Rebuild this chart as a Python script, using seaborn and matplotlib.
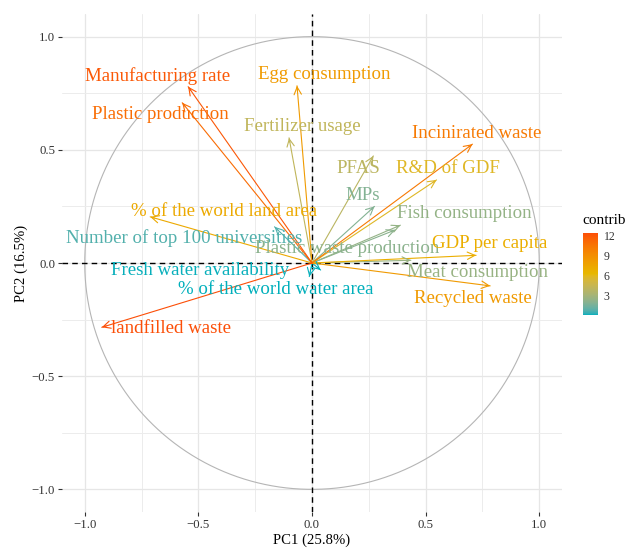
import numpy as np
import pandas as pd
import matplotlib
matplotlib.use("Agg")
import matplotlib.pyplot as plt
from matplotlib.colors import ListedColormap, Normalize
import seaborn as sns

# PCA variable coordinates (correlations with PC1 / PC2)
variables = [
    "Manufacturing rate", "Plastic production", "Egg consumption", "Fertilizer usage",
    "% of the world land area", "Number of top 100 universities", "Incinirated waste",
    "R&D of GDF", "PFAS", "MPs", "Fish consumption", "Plastic waste production",
    "GDP per capita", "Meat consumption", "Recycled waste", "landfilled waste",
    "Fresh water availability", "% of the world water area",
]
pc1 = [-0.545, -0.571, -0.066, -0.101, -0.712, -0.165, 0.706, 0.548, 0.270, 0.275,
       0.389, 0.366, 0.722, 0.435, 0.784, -0.925, -0.012, 0.038]
pc2 = [0.779, 0.708, 0.783, 0.553, 0.204, 0.160, 0.525, 0.367, 0.473, 0.250,
       0.167, 0.146, 0.034, 0.012, -0.101, -0.284, -0.060, -0.031]
pc1_pct, pc2_pct = 25.8, 16.5

# label anchors (repelled text positions)
label_xy = {
    "Manufacturing rate": (-0.680, 0.827),
    "Egg consumption": (0.055, 0.832),
    "Plastic production": (-0.666, 0.655),
    "Fertilizer usage": (-0.044, 0.602),
    "Incinirated waste": (0.725, 0.571),
    "PFAS": (0.202, 0.416),
    "R&D of GDF": (0.598, 0.416),
    "MPs": (0.224, 0.296),
    "% of the world land area": (-0.387, 0.226),
    "Fish consumption": (0.668, 0.217),
    "Number of top 100 universities": (-0.563, 0.111),
    "Plastic waste production": (0.154, 0.066),
    "GDP per capita": (0.782, 0.088),
    "Fresh water availability": (-0.491, -0.031),
    "Meat consumption": (0.730, -0.044),
    "% of the world water area": (-0.158, -0.119),
    "Recycled waste": (0.707, -0.155),
    "landfilled waste": (-0.622, -0.288),
}

df = pd.DataFrame({"variable": variables, "PC1": pc1, "PC2": pc2})
sq = df["PC1"] ** 2 + df["PC2"] ** 2
df["contrib"] = 100 * sq / sq.sum()

# ---- three-colour gradient interpolated in CIELAB across the data range ----
def _srgb_to_lab(rgb):
    rgb = np.asarray(rgb, float)
    lin = np.where(rgb <= 0.04045, rgb / 12.92, ((rgb + 0.055) / 1.055) ** 2.4)
    M = np.array([[0.4124564, 0.3575761, 0.1804375],
                  [0.2126729, 0.7151522, 0.0721750],
                  [0.0193339, 0.1191920, 0.9503041]])
    xyz = lin @ M.T / np.array([0.95047, 1.0, 1.08883])
    f = np.where(xyz > (6 / 29) ** 3, np.cbrt(xyz), xyz / (3 * (6 / 29) ** 2) + 4 / 29)
    return np.stack([116 * f[..., 1] - 16, 500 * (f[..., 0] - f[..., 1]),
                     200 * (f[..., 1] - f[..., 2])], -1)

def _lab_to_srgb(lab):
    lab = np.asarray(lab, float)
    fy = (lab[..., 0] + 16) / 116
    fx = fy + lab[..., 1] / 500
    fz = fy - lab[..., 2] / 200
    f = np.stack([fx, fy, fz], -1)
    xyz = np.where(f > 6 / 29, f ** 3, 3 * (6 / 29) ** 2 * (f - 4 / 29))
    xyz = xyz * np.array([0.95047, 1.0, 1.08883])
    Minv = np.array([[3.2404542, -1.5371385, -0.4985314],
                     [-0.9692660, 1.8760108, 0.0415560],
                     [0.0556434, -0.2040259, 1.0572252]])
    lin = np.clip(xyz @ Minv.T, 0, 1)
    return np.where(lin <= 0.0031308, 12.92 * lin, 1.055 * lin ** (1 / 2.4) - 0.055)

grad_cols = ["#00AFBB", "#E7B800", "#FC4E07"]
grad_lab = _srgb_to_lab(np.array([matplotlib.colors.to_rgb(c) for c in grad_cols]))
c_min, c_max = df["contrib"].min(), df["contrib"].max()

def contrib_color(v):
    p = np.clip((np.asarray(v, float) - c_min) / (c_max - c_min), 0, 1)
    low = p < 0.5
    t = np.where(low, p / 0.5, (p - 0.5) / 0.5)[..., None]
    lo = np.where(low[..., None], grad_lab[0], grad_lab[1])
    hi = np.where(low[..., None], grad_lab[1], grad_lab[2])
    return _lab_to_srgb(lo + (hi - lo) * t)

cmap = ListedColormap(contrib_color(np.linspace(c_min, c_max, 256)))
norm = Normalize(c_min, c_max)

# ---- figure ----
sns.set_theme(style="whitegrid")
plt.rcParams["font.family"] = ["Liberation Serif", "DejaVu Serif"]

fig = plt.figure(figsize=(6.27, 5.48), dpi=100)
ax = fig.add_axes([62 / 627, 36 / 548, 500 / 627, 498 / 548])
ax.set_facecolor("white")

ax.set_xlim(-1.1, 1.1)
ax.set_ylim(-1.1, 1.1)
ax.set_xticks([-1.0, -0.5, 0.0, 0.5, 1.0])
ax.set_yticks([-1.0, -0.5, 0.0, 0.5, 1.0])
ax.set_xticks([-0.75, -0.25, 0.25, 0.75], minor=True)
ax.set_yticks([-0.75, -0.25, 0.25, 0.75], minor=True)
ax.grid(True, which="major", color="#e6e6e6", lw=0.9)
ax.grid(True, which="minor", color="#ececec", lw=0.7)
for s in ax.spines.values():
    s.set_visible(False)
ax.tick_params(which="major", length=3, width=0.8, color="#333333",
               labelsize=9.2, labelcolor="#333333", pad=2, bottom=True, left=True)
ax.tick_params(which="minor", length=0)

# correlation circle
theta = np.linspace(0, 2 * np.pi, 400)
ax.plot(np.cos(theta), np.sin(theta), color="#b5b5b5", lw=0.8, zorder=2)

# reference axes
ax.axhline(0, color="black", lw=1.0, ls=(0, (4, 3)), zorder=2)
ax.axvline(0, color="black", lw=1.0, ls=(0, (4, 3)), zorder=2)

# arrow shafts
seg = pd.concat([
    df.assign(x=0.0, y=0.0, order=0),
    df.assign(x=df["PC1"], y=df["PC2"], order=1),
]).sort_values(["variable", "order"])
sns.lineplot(data=seg, x="x", y="y", units="variable", estimator=None, sort=False,
             hue="contrib", palette=cmap, hue_norm=norm, lw=0.8, legend=False,
             ax=ax, zorder=3)

# arrow heads and labels
for _, r in df.iterrows():
    col = contrib_color(r["contrib"])
    d = np.array([r["PC1"], r["PC2"]])
    n = np.linalg.norm(d)
    start = d - d / n * min(0.02, n * 0.5)
    ax.annotate("", xy=tuple(d), xytext=tuple(start),
                arrowprops=dict(arrowstyle="->,head_length=0.45,head_width=0.22",
                                color=col, lw=0.8, shrinkA=0, shrinkB=0),
                zorder=4)
    lx, ly = label_xy[r["variable"]]
    ax.text(lx, ly, r["variable"], color=col, fontsize=13.6, ha="center",
            va="center", zorder=5)

ax.set_xlabel(f"PC1 ({pc1_pct}%)", fontsize=10.6, color="black", labelpad=2)
ax.set_ylabel(f"PC2 ({pc2_pct}%)", fontsize=10.6, color="black", labelpad=3)

# colour bar legend
cax = fig.add_axes([583 / 627, (548 - 315) / 548, 15 / 627, 82 / 548])
cb = fig.colorbar(matplotlib.cm.ScalarMappable(norm=norm, cmap=cmap), cax=cax,
                  ticks=[3, 6, 9, 12])
cb.outline.set_visible(False)
cax.tick_params(length=3, width=0.8, color="white", direction="in",
                labelsize=8.5, labelcolor="#333333", pad=4)
cax.tick_params(which="minor", length=0)
fig.text(582 / 627, 1 - 220 / 548, "contrib", fontsize=11, ha="left",
         va="center", color="black")

fig.savefig("out.png", dpi=100)
